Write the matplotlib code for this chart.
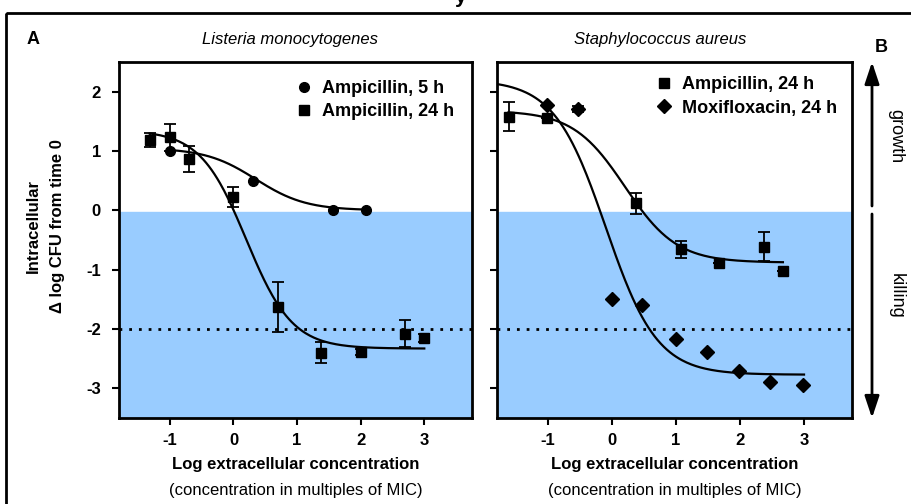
import numpy as np
import matplotlib
matplotlib.use("Agg")
import matplotlib.pyplot as plt
from matplotlib.patches import Rectangle
from matplotlib.lines import Line2D

plt.rcParams['font.family'] = ['Liberation Sans', 'DejaVu Sans']
plt.rcParams['axes.unicode_minus'] = False

# ---- data ----
# Listeria monocytogenes
lm_amp5_x = [-1.0, 0.3, 1.57, 2.08]
lm_amp5_y = [1.0, 0.5, 0.01, 0.0]

lm_amp24_x = [-1.32, -1.0, -0.7, 0.0, 0.7, 1.38, 2.0, 2.69, 3.0]
lm_amp24_y = [1.19, 1.23, 0.87, 0.22, -1.63, -2.40, -2.39, -2.08, -2.15]
lm_amp24_err = [0.12, 0.23, 0.22, 0.17, 0.42, 0.18, 0.05, 0.23, 0.07]

# Staphylococcus aureus
sa_amp24_x = [-1.62, -1.02, 0.38, 1.07, 1.67, 2.37, 2.67]
sa_amp24_y = [1.58, 1.56, 0.12, -0.66, -0.88, -0.61, -1.03]
sa_amp24_err = [0.24, 0.0, 0.18, 0.14, 0.0, 0.24, 0.0]

sa_moxi24_x = [-1.02, -0.53, 0.0, 0.46, 1.0, 1.48, 1.98, 2.47, 2.98]
sa_moxi24_y = [1.78, 1.71, -1.50, -1.60, -2.17, -2.39, -2.70, -2.89, -2.94]
sa_moxi24_err = [0.0, 0.05, 0.0, 0.0, 0.0, 0.0, 0.0, 0.0, 0.0]

# sigmoid fits: top, bottom, log EC50, slope, x range
fit_lm_amp5 = [1.05, 0.0, 0.35, 1.1, -1.0, 2.08]
fit_lm_amp24 = [1.35, -2.33, 0.2, 1.2, -1.32, 3.0]
fit_sa_amp24 = [1.68, -0.88, 0.2, 1.07, -1.62, 2.67]
fit_sa_moxi24 = [2.2, -2.77, -0.1, 1.08, -1.8, 3.0]

xticks = [-1, 0, 1, 2, 3]
yticks = [-3, -2, -1, 0, 1, 2]


def sigmoid(p):
	top, bottom, ec50, slope, x0, x1 = p
	x = np.linspace(x0, x1, 200)
	return x, bottom + (top - bottom) / (1 + 10 ** ((x - ec50) * slope))


def setup(ax, show_ylabels):
	ax.set_xlim(-1.8, 3.75)
	ax.set_ylim(-3.5, 2.5)
	ax.axhspan(-3.5, -0.03, color='#99ccff', zorder=0)
	ax.axhline(-2, color='black', lw=2, ls=(0, (1, 2.5)), zorder=1)
	ax.set_xticks(xticks)
	ax.set_yticks(yticks)
	ax.tick_params(direction='out', length=5, width=1.5, labelsize=12)
	ax.tick_params(axis='y', pad=8)
	ax.tick_params(axis='x', pad=6)
	for lab in ax.get_xticklabels() + ax.get_yticklabels():
		lab.set_fontweight('bold')
	if not show_ylabels:
		ax.set_yticklabels([])
	for s in ax.spines.values():
		s.set_linewidth(2)
	ax.text(0.5, -(465 - 418) / 356, 'Log extracellular concentration', transform=ax.transAxes,
		ha='center', va='center', fontsize=12, fontweight='bold')
	ax.text(0.5, -(490 - 418) / 356, '(concentration in multiples of MIC)', transform=ax.transAxes,
		ha='center', va='center', fontsize=12)


def mk(marker, label):
	return Line2D([], [], ls='none', marker=marker, color='black', ms=7, label=label)


fig = plt.figure(figsize=(9.12, 5.04), dpi=100)

ax1 = fig.add_axes([119 / 912, 86 / 504, 353 / 912, 356 / 504])
ax2 = fig.add_axes([497 / 912, 86 / 504, 355 / 912, 356 / 504])
setup(ax1, True)
setup(ax2, False)

eb = dict(color='black', ms=7, capsize=4, elinewidth=1.3, capthick=1.3, zorder=3)
leg_kw = dict(loc='upper right', frameon=False, prop={'weight': 'bold', 'size': 13},
	handletextpad=0.5, labelspacing=0.35, handlelength=1.0)

# panel A
x, y = sigmoid(fit_lm_amp5)
ax1.plot(x, y, color='black', lw=1.6, zorder=2)
x, y = sigmoid(fit_lm_amp24)
ax1.plot(x, y, color='black', lw=1.6, zorder=2)
ax1.plot(lm_amp5_x, lm_amp5_y, 'o', color='black', ms=7, zorder=3)
ax1.errorbar(lm_amp24_x, lm_amp24_y, yerr=lm_amp24_err, fmt='s', **eb)
ax1.legend(handles=[mk('o', 'Ampicillin, 5 h'), mk('s', 'Ampicillin, 24 h')],
	borderaxespad=0.6, **leg_kw)

# panel B
x, y = sigmoid(fit_sa_amp24)
ax2.plot(x, y, color='black', lw=1.6, zorder=2)
x, y = sigmoid(fit_sa_moxi24)
ax2.plot(x, y, color='black', lw=1.6, zorder=2)
ax2.errorbar(sa_amp24_x, sa_amp24_y, yerr=sa_amp24_err, fmt='s', **eb)
ax2.errorbar(sa_moxi24_x, sa_moxi24_y, yerr=sa_moxi24_err, fmt='D', **eb)
ax2.legend(handles=[mk('s', 'Ampicillin, 24 h'), mk('D', 'Moxifloxacin, 24 h')],
	borderaxespad=0.4, **leg_kw)

# titles, panel letters, y label
fig.text(290 / 912, 1 - 40 / 504, 'Listeria monocytogenes', style='italic', fontsize=12,
	ha='center', va='center')
fig.text(660 / 912, 1 - 40 / 504, 'Staphylococcus aureus', style='italic', fontsize=12,
	ha='center', va='center')
fig.text(33 / 912, 1 - 40 / 504, 'A', fontweight='bold', fontsize=13, ha='center', va='center')
fig.text(881 / 912, 1 - 47 / 504, 'B', fontweight='bold', fontsize=13, ha='center', va='center')
fig.text(461 / 912, 1 - 3 / 504, 'y', fontweight='bold', fontsize=15, ha='center', va='baseline')
fig.text(33 / 912, 1 - 226 / 504, 'Intracellular', rotation=90, fontweight='bold', fontsize=12,
	ha='center', va='center')
fig.text(58 / 912, 1 - 226 / 504, '\u0394 log CFU from time 0', rotation=90, fontweight='bold',
	fontsize=12, ha='center', va='center')

# growth / killing arrows
ax_arr = fig.add_axes([0, 0, 1, 1], facecolor='none')
ax_arr.set_xlim(0, 912)
ax_arr.set_ylim(504, 0)
ax_arr.axis('off')
arrow = dict(arrowstyle='-|>,head_length=1.2,head_width=0.4', color='black', lw=2,
	mutation_scale=11, shrinkA=0, shrinkB=0)
ax_arr.annotate('', xy=(872, 62), xytext=(872, 206), arrowprops=arrow)
ax_arr.annotate('', xy=(872, 418), xytext=(872, 214), arrowprops=arrow)
ax_arr.text(896, 136, 'growth', rotation=270, fontsize=13, ha='center', va='center')
ax_arr.text(896, 296, 'killing', rotation=270, fontsize=13, ha='center', va='center')
ax_arr.add_patch(Rectangle((6, 13), 1000, 600, fill=False, lw=2, edgecolor='black'))

fig.savefig('out.png', dpi=100)
